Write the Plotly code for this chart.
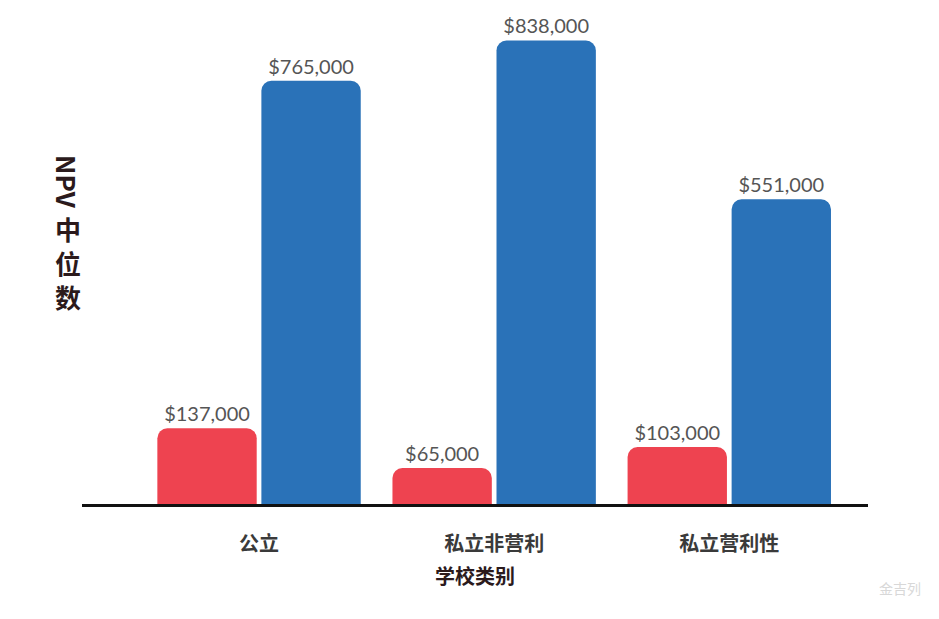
import plotly.graph_objects as go

categories = ["公立", "私立非营利", "私立营利性"]
series_a = [137000, 65000, 103000]
series_b = [765000, 838000, 551000]
labels_a = ["$137,000", "$65,000", "$103,000"]
labels_b = ["$765,000", "$838,000", "$551,000"]

red = "#EE4350"
blue = "#2A72B8"
lab_font = dict(family="Lato, Noto Sans, sans-serif", size=20, color="#555555")

W, H = 939, 619
L, R, T, B = 74, 79, 12, 123
PW, PH = W - L - R, H - T - B

fig = go.Figure()
fig.add_trace(go.Bar(x=categories, y=series_a, text=labels_a, textposition="outside",
                     marker=dict(color=red, cornerradius=10, line=dict(width=0)),
                     textfont=lab_font, cliponaxis=False, hoverinfo="skip"))
fig.add_trace(go.Bar(x=categories, y=series_b, text=labels_b, textposition="outside",
                     marker=dict(color=blue, cornerradius=10, line=dict(width=0)),
                     textfont=lab_font, cliponaxis=False, hoverinfo="skip"))

fig.update_layout(
    width=W, height=H,
    margin=dict(l=L, r=R, t=T, b=B),
    paper_bgcolor="white", plot_bgcolor="white",
    barmode="group", bargap=0.115, bargroupgap=0.045,
    showlegend=False,
    font=dict(family="Lato, Noto Sans CJK SC, sans-serif"),
    xaxis=dict(type="category", range=[-0.753, 2.59], showline=True, linecolor="#111111",
               linewidth=3, ticks="", showgrid=False,
               tickfont=dict(family="Noto Sans CJK SC", size=20, color="#3a3a3a"),
               ticklabelstandoff=20,
               title=dict(text="<b>学校类别</b>", standoff=14,
                          font=dict(family="Noto Sans CJK SC", size=20, color="#2b1a1c"))),
    yaxis=dict(range=[0, 875000], visible=False, showgrid=False),
)
fig.update_xaxes(ticktext=["<b>" + c + "</b>" for c in categories], tickvals=categories)

def py(y):  # pixel (window coords, offset by 8px body margin) -> paper y
    return (H - B - (y - 8)) / PH

def px(x):
    return (x - 8 - L) / PW

fig.add_annotation(xref="paper", yref="paper", x=px(68), y=py(182),
                   text="<b>NPV</b>", textangle=90, showarrow=False, xanchor="center", yanchor="middle",
                   font=dict(family="Noto Sans CJK SC", size=26, color="#2b1a1c"))
fig.add_annotation(xref="paper", yref="paper", x=px(68), y=py(263),
                   text="<b>中</b><br><b>位</b><br><b>数</b>", showarrow=False,
                   xanchor="center", yanchor="middle",
                   font=dict(family="Noto Sans CJK SC", size=26, color="#2b1a1c"))
fig.add_annotation(xref="paper", yref="paper", x=px(900), y=py(588),
                   text="金吉列", showarrow=False, xanchor="center", yanchor="middle",
                   font=dict(family="Noto Sans CJK SC", size=14, color="#d8d8d8"))

fig.write_html("out.html")
